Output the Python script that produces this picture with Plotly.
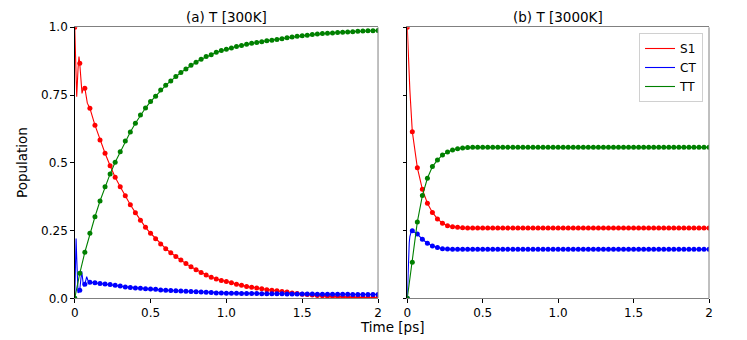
import plotly.graph_objects as go

# marker grid (ps)
t_marks = [k / 30 for k in range(61)]

# (a) T [300K]
s1_a = [1.0, 0.867, 0.775, 0.701, 0.639, 0.584, 0.535, 0.489, 0.447, 0.412,
        0.378, 0.345, 0.316, 0.288, 0.262, 0.240, 0.220, 0.200, 0.183, 0.168,
        0.154, 0.141, 0.128, 0.116, 0.105, 0.095, 0.086, 0.078, 0.071, 0.066,
        0.062, 0.057, 0.052, 0.048, 0.044, 0.041, 0.038, 0.035, 0.032, 0.030,
        0.028, 0.025, 0.023, 0.020, 0.018, 0.015, 0.014, 0.012, 0.010, 0.009,
        0.008, 0.007, 0.006, 0.005, 0.004, 0.004, 0.003, 0.003, 0.002, 0.002,
        0.002]
ct_a = [0.0, 0.030, 0.052, 0.059, 0.057, 0.055, 0.053, 0.051, 0.048, 0.045,
        0.042, 0.040, 0.038, 0.037, 0.035, 0.034, 0.033, 0.031, 0.030, 0.029,
        0.028, 0.027, 0.026, 0.025, 0.024, 0.023, 0.022, 0.021, 0.020, 0.020,
        0.019, 0.019, 0.019, 0.018, 0.018, 0.018, 0.018, 0.017, 0.017, 0.017,
        0.017, 0.017, 0.016, 0.016, 0.016, 0.016, 0.016, 0.016, 0.015, 0.015,
        0.015, 0.015, 0.015, 0.015, 0.015, 0.014, 0.014, 0.014, 0.014, 0.014,
        0.014]
tt_a = [0.0, 0.092, 0.170, 0.240, 0.301, 0.359, 0.412, 0.459, 0.502, 0.541,
        0.580, 0.614, 0.646, 0.676, 0.702, 0.726, 0.746, 0.769, 0.786, 0.802,
        0.818, 0.833, 0.846, 0.860, 0.871, 0.882, 0.892, 0.899, 0.908, 0.914,
        0.919, 0.924, 0.929, 0.933, 0.937, 0.941, 0.944, 0.947, 0.950, 0.952,
        0.955, 0.958, 0.961, 0.964, 0.967, 0.969, 0.971, 0.973, 0.975, 0.977,
        0.978, 0.979, 0.981, 0.982, 0.983, 0.984, 0.985, 0.986, 0.987, 0.987,
        0.988]
# early oscillations (line only)
t_early_a = [0.0, 0.009, 0.013, 0.022, 0.028, 0.033, 0.046, 0.048, 0.058, 0.059, 0.067, 0.079, 0.083, 0.09]
s1_early_a = [1.0, 0.82, 0.744, 0.85, 0.892, 0.867, 0.77, 0.756, 0.778, 0.781, 0.775, 0.73, 0.720, 0.712]
ct_early_a = [0.0, 0.221, 0.15, 0.02, 0.025, 0.030, 0.10, 0.09, 0.045, 0.046, 0.052, 0.08, 0.072, 0.062]

# (b) T [3000K]
s1_b = [1.0, 0.615, 0.482, 0.402, 0.351, 0.317, 0.293, 0.277, 0.268, 0.264,
        0.262, 0.260, 0.259] + [0.259] * 48
ct_b = [0.0, 0.249, 0.237, 0.218, 0.203, 0.193, 0.187, 0.183, 0.182, 0.181,
        0.181, 0.181, 0.181] + [0.181] * 48
tt_b = [0.0, 0.133, 0.282, 0.379, 0.443, 0.486, 0.510, 0.529, 0.540, 0.547,
        0.552, 0.555, 0.556] + [0.557] * 48
t_early_b = [0.0, 0.004, 0.007, 0.013, 0.017, 0.02, 0.027]
s1_early_b = [1.0, 0.93, 0.88, 0.81, 0.77, 0.74, 0.68]
ct_early_b = [0.0, 0.09, 0.14, 0.205, 0.228, 0.24, 0.248]

names = ["S1", "CT", "TT"]
colors = ["#ff0000", "#0000ff", "#008000"]

fig = go.Figure()


def add_panel(xa, ya, series, early, show_legend):
    for i, (name, vals) in enumerate(zip(names, series)):
        ex, ey = early[i] if early[i] else ([], [])
        last = ex[-1] if ex else -1
        lx = list(ex) + [t for t in t_marks if t > last]
        ly = list(ey) + [v for t, v in zip(t_marks, vals) if t > last]
        fig.add_trace(go.Scatter(x=lx, y=ly, mode="lines", name=name,
                                 line=dict(color=colors[i], width=1.1),
                                 xaxis=xa, yaxis=ya, showlegend=show_legend,
                                 legendgroup=name))
        fig.add_trace(go.Scatter(x=t_marks, y=vals, mode="markers", name=name,
                                 marker=dict(color=colors[i], size=5),
                                 xaxis=xa, yaxis=ya, showlegend=False,
                                 legendgroup=name))


add_panel("x", "y", [s1_a, ct_a, tt_a],
          [(t_early_a, s1_early_a), (t_early_a, ct_early_a), None], False)
add_panel("x2", "y2", [s1_b, ct_b, tt_b],
          [(t_early_b, s1_early_b), (t_early_b, ct_early_b), None], True)

xt = dict(range=[0, 2], tickvals=[0, 0.5, 1, 1.5, 2],
          ticktext=["0", "0.5", "1.0", "1.5", "2"],
          showline=True, linecolor="#808080", linewidth=1, mirror=True,
          ticks="outside", ticklen=3.5, tickcolor="black", automargin=False,
          showgrid=False, zeroline=False, tickfont=dict(size=12, color="black"))
yt = dict(range=[0, 1], tickvals=[0, 0.25, 0.5, 0.75, 1],
          ticktext=["0.0", "0.25", "0.5", "0.75", "1.0"],
          showline=True, linecolor="black", linewidth=1, automargin=False,
          ticks="outside", ticklen=3.5, tickcolor="black",
          showgrid=False, zeroline=False, tickfont=dict(size=12, color="black"))

# page body adds an 8px margin, so the figure is 8px smaller
W, H = 739, 332

fig.update_layout(
    width=W, height=H,
    margin=dict(l=0, r=0, t=0, b=0, autoexpand=False),
    paper_bgcolor="white", plot_bgcolor="white",
    font=dict(family="DejaVu Sans", color="black"),
    xaxis=dict(xt, domain=[0.0903, 0.5007], anchor="y"),
    yaxis=dict(yt, domain=[0.1256, 0.9419], anchor="x"),
    xaxis2=dict(xt, domain=[0.5403, 0.9486], anchor="y2"),
    yaxis2=dict(yt, domain=[0.1256, 0.9419], anchor="x2", showticklabels=False),
    legend=dict(x=0.9405, y=0.9247, xanchor="right", yanchor="top",
                bgcolor="white", bordercolor="#d0d0d0", borderwidth=1,
                font=dict(size=12), itemwidth=30, tracegroupgap=0),
    showlegend=True,
    shapes=[
        dict(type="line", xref="x domain", yref="y domain", x0=1, x1=1, y0=0, y1=1,
             line=dict(color="#808080", width=1)),
        dict(type="line", xref="x2 domain", yref="y2 domain", x0=1, x1=1, y0=0, y1=1,
             line=dict(color="#808080", width=1)),
    ],
    annotations=[
        dict(text="(a) T [300K]", x=0.5, y=1, xref="x domain", yref="y domain",
             xanchor="center", yanchor="bottom", yshift=0, showarrow=False,
             font=dict(size=13.5)),
        dict(text="(b) T [3000K]", x=0.5, y=1, xref="x2 domain", yref="y2 domain",
             xanchor="center", yanchor="bottom", yshift=0, showarrow=False,
             font=dict(size=13.5)),
        dict(text="Time [ps]", x=384 / W, y=1 - 319 / H, xref="paper", yref="paper",
             xanchor="center", yanchor="middle", showarrow=False,
             font=dict(size=13.5)),
        dict(text="Population", x=14 / W, y=1 - 155 / H, xref="paper", yref="paper",
             xanchor="center", yanchor="middle", textangle=-90, showarrow=False,
             font=dict(size=13.5)),
    ],
)

fig.write_html("out.html")
